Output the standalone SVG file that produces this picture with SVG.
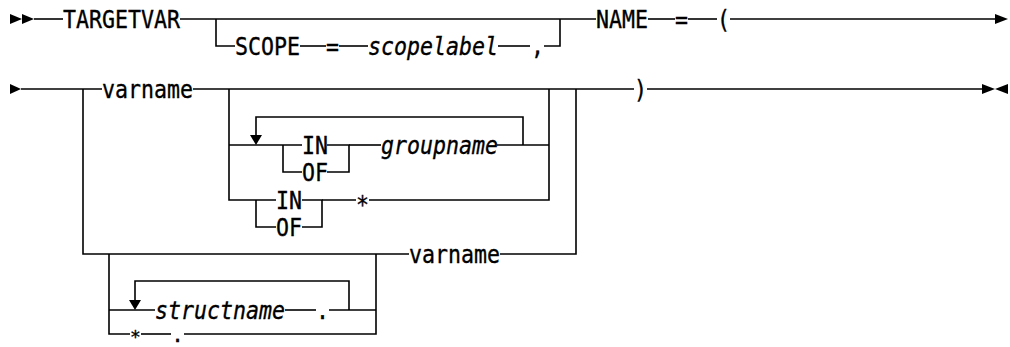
<svg xmlns="http://www.w3.org/2000/svg" width="1010" height="347" viewBox="0 0 1010 347">
<style>
  .t { font-family: "DejaVu Sans Mono", "Liberation Mono", monospace; font-size: 24px; fill: #000; stroke: #000; stroke-width: 0.35; }
  .i { font-style: italic; }
  .c { fill: none; stroke: #000; stroke-width: 1.6; }
  .a { fill: #000; stroke: none; }
</style>
<rect width="1010" height="347" fill="#fff"/>
<g id="connectors">
  <!-- row 1 -->
  <polygon class="a" points="10,14 22,19 10,24"/>
  <polygon class="a" points="22,14 34,19 22,24"/>
  <path class="c" d="M34,19 H63"/>
  <path class="c" d="M180,19 H596"/>
  <path class="c" d="M216,19 V46 H235"/>
  <path class="c" d="M300,46 H326"/>
  <path class="c" d="M339,46 H368"/>
  <path class="c" d="M498,46 H530"/>
  <path class="c" d="M544,46 H560 V19"/>
  <path class="c" d="M648,19 H675"/>
  <path class="c" d="M688,19 H717"/>
  <path class="c" d="M730,19 H996"/>
  <polygon class="a" points="995,14 1008,19 995,24"/>
  <!-- row 2 -->
  <polygon class="a" points="10,84 21,89 10,94"/>
  <path class="c" d="M21,89 H102"/>
  <path class="c" d="M83,89 V254 H409"/>
  <path class="c" d="M500,254 H576 V89"/>
  <path class="c" d="M193,89 H634"/>
  <path class="c" d="M647,89 H983"/>
  <polygon class="a" points="982,84 995,89 982,94"/>
  <polygon class="a" points="1008,84 995,89 1008,94"/>
  <!-- IN/OF groupname option -->
  <path class="c" d="M229,89 V200 H276"/>
  <path class="c" d="M229,145 H302"/>
  <path class="c" d="M283,145 V172 H302"/>
  <path class="c" d="M327,145 H349 V172 H327"/>
  <path class="c" d="M349,145 H381"/>
  <path class="c" d="M497,145 H549"/>
  <path class="c" d="M523,145 V117 H256 V136"/>
  <polygon class="a" points="250,135 262,135 256,145"/>
  <path class="c" d="M549,89 V200 H369"/>
  <!-- IN/OF * option -->
  <path class="c" d="M256,200 V227 H276"/>
  <path class="c" d="M302,200 H322 V227 H302"/>
  <path class="c" d="M322,200 H356"/>
  <!-- structname option -->
  <path class="c" d="M109,254 V334 H130"/>
  <path class="c" d="M109,310 H155"/>
  <path class="c" d="M349,310 V281 H135 V301"/>
  <polygon class="a" points="129,300 141,300 135,310"/>
  <path class="c" d="M285,310 H316"/>
  <path class="c" d="M329,310 H376"/>
  <path class="c" d="M376,254 V334 H184"/>
  <path class="c" d="M141,334 H171"/>
</g>
<g id="n-targetvar"><text class="t" x="63" y="28" textLength="117" lengthAdjust="spacingAndGlyphs">TARGETVAR</text></g>
<g id="n-scope"><text class="t" x="235" y="55" textLength="65" lengthAdjust="spacingAndGlyphs">SCOPE</text></g>
<g id="n-eq1"><text class="t" x="326" y="55" textLength="13" lengthAdjust="spacingAndGlyphs">=</text></g>
<g id="n-scopelabel"><text class="t i" x="368" y="55" textLength="130" lengthAdjust="spacingAndGlyphs">scopelabel</text></g>
<g id="n-comma"><text class="t" x="531" y="55" textLength="13" lengthAdjust="spacingAndGlyphs">,</text></g>
<g id="n-name"><text class="t" x="596" y="28" textLength="52" lengthAdjust="spacingAndGlyphs">NAME</text></g>
<g id="n-eq2"><text class="t" x="675" y="28" textLength="13" lengthAdjust="spacingAndGlyphs">=</text></g>
<g id="n-lparen"><text class="t" x="717" y="28" textLength="13" lengthAdjust="spacingAndGlyphs">(</text></g>
<g id="n-varname1"><text class="t" x="102" y="98" textLength="91" lengthAdjust="spacingAndGlyphs">varname</text></g>
<g id="n-in1"><text class="t" x="302" y="154" textLength="26" lengthAdjust="spacingAndGlyphs">IN</text></g>
<g id="n-of1"><text class="t" x="302" y="181" textLength="26" lengthAdjust="spacingAndGlyphs">OF</text></g>
<g id="n-groupname"><text class="t i" x="381" y="154" textLength="117" lengthAdjust="spacingAndGlyphs">groupname</text></g>
<g id="n-in2"><text class="t" x="276" y="209" textLength="26" lengthAdjust="spacingAndGlyphs">IN</text></g>
<g id="n-of2"><text class="t" x="276" y="236" textLength="26" lengthAdjust="spacingAndGlyphs">OF</text></g>
<g id="n-star1"><text class="t" x="356" y="213" textLength="13" lengthAdjust="spacingAndGlyphs">*</text></g>
<g id="n-rparen"><text class="t" x="634" y="98" textLength="13" lengthAdjust="spacingAndGlyphs">)</text></g>
<g id="n-varname2"><text class="t" x="409" y="263" textLength="91" lengthAdjust="spacingAndGlyphs">varname</text></g>
<g id="n-structname"><text class="t i" x="155" y="319" textLength="130" lengthAdjust="spacingAndGlyphs">structname</text></g>
<g id="n-dot1"><text class="t" x="316" y="319" textLength="13" lengthAdjust="spacingAndGlyphs">.</text></g>
<g id="n-star2"><text class="t" x="135.5" y="342.5" text-anchor="middle" style="font-size:18px">*</text></g>
<g id="n-dot2"><text class="t" x="177.5" y="342" text-anchor="middle" style="font-size:21px">.</text></g>
</svg>
